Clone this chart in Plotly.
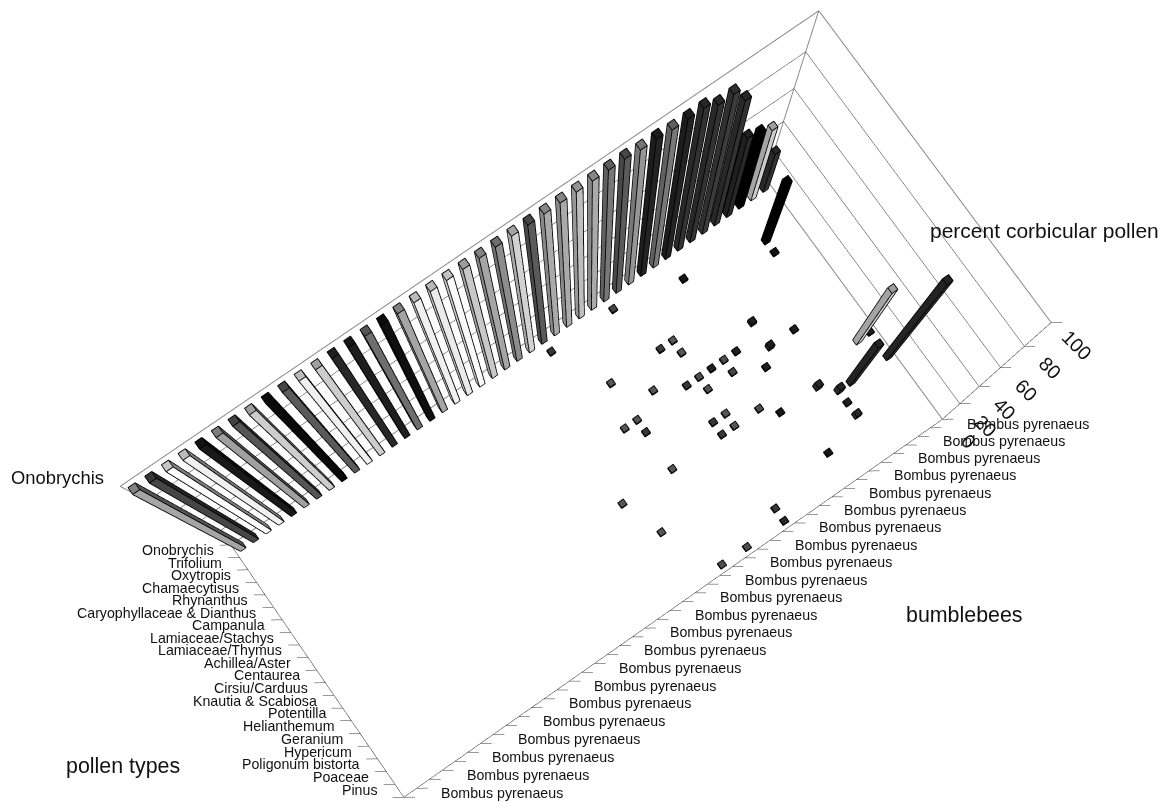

import plotly.graph_objects as go

pollen_types = ["Pinus","Poaceae","Poligonum bistorta","Hypericum","Geranium","Helianthemum","Potentilla",
 "Knautia & Scabiosa","Cirsiu/Carduus","Centaurea","Achillea/Aster","Lamiaceae/Thymus","Lamiaceae/Stachys",
 "Campanula","Caryophyllaceae & Dianthus","Rhynanthus","Chamaecytisus","Oxytropis","Trifolium","Onobrychis"]
n_bees = 43
bee_label = "Bombus pyrenaeus"
z_ticks = [0,20,40,60,80,100]
row_pct = [100,100,100,100,100,100,100,100,100,100,100,100,100,100,100,100,100,100,100,100,100,
           100,100,100,100,100,100,100,100,100,100,99,99,98,98,98,94,94,85,57,54,50,28]
row_gray = [165,70,255,240,25,160,85,205,10,90,240,205,40,30,110,15,165,240,235,250,200,165,140,210,90,170,170,190,170,120,90,150,35,120,35,50,50,60,50,40,0,205,50]
bee =  [41,40,42,43, 35,30,25,37,39,32,31,32,37,35,34,33,32,31,34,36,27,29,32,27,26,27,32,31,32,31,34,35,36,27,23,24,31,31,28,26,38,39,39,39,43,41]
poll = [17, 6, 8, 6, 18,19,19,13,11,15,15,14,11,12,12,12,12,12,11,10,15,13,11,12,12,11, 9, 9, 8, 8, 8, 7, 3, 8, 8, 5, 2, 1, 1, 1, 7, 6, 5, 4, 8,16]
pct =  [47,42,50,72,  1, 1, 1, 2, 1, 1, 1, 1, 3, 1, 1, 1, 1, 1, 1, 1, 1, 1, 1, 1, 1, 1, 1, 1, 1, 1, 1, 1, 1, 1, 1, 1, 1, 1, 1, 1, 4, 5, 1, 3, 1, 1]
gray = [ 0,45,205,45, 30,90,70,40,40,110,80,110,40,40,100,40,100,70,90,40,110,110,110,110,110,70,110,70,110,70,100,30,30,110,110,110,70,50,100,100,50,50,40,50,40,20]

W,H=1160,1200
eye=dict(x=-0.47364,y=-0.67611,z=4.13826)
center=dict(x=-0.42387,y=-0.60489,z=3.14204)
up=dict(x=0.57235,y=0.81539,z=0.08689)
ax_,az_=2.15154,1.12515
n_poll=len(pollen_types)
xr=[-1,45]; yr=[-1.5,22.5]; zr=[-1,101]
half=0.2
B=list(range(1,n_bees+1))+bee
P=[n_poll]*n_bees+poll
Z=row_pct+pct
G=row_gray+gray
vx,vy,vz,fi,fj,fk,fc=[],[],[],[],[],[],[]
ex,ey,ez=[],[],[]
def col(g,s):
    v=int(round(g*s));return f"rgb({v},{v},{v})"
for b,q,z,g in zip(B,P,Z,G):
    n=len(vx)
    for zz_ in (0,z):
        for dx,dy in ((-half,-half),(half,-half),(half,half),(-half,half)):
            vx.append(b+dx);vy.append(q+dy);vz.append(zz_)
    faces=[((4,5,6),.78),((4,6,7),.78),((0,1,5),1),((0,5,4),1),((1,2,6),.5),((1,6,5),.5),((2,3,7),1),((2,7,6),1),((3,0,4),.8),((3,4,7),.8)]
    for (a,c2,d),s in faces:
        fi.append(n+a);fj.append(n+c2);fk.append(n+d);fc.append(col(g,s))
    h=half+.012
    rect=[(b-h,q-h),(b+h,q-h),(b+h,q+h),(b-h,q+h)]
    for zz_ in (0,z+.12):
        for xy in rect+[rect[0]]:
            ex.append(xy[0]);ey.append(xy[1]);ez.append(zz_)
        ex.append(None);ey.append(None);ez.append(None)
    for xy in rect:
        ex+=[xy[0],xy[0],None];ey+=[xy[1],xy[1],None];ez+=[0,z+.12,None]

x0,x1=.5,n_bees+.5; y0,y1=.5,n_poll+.5
def seg(L,a,b):
    L[0]+= [a[0],b[0],None];L[1]+=[a[1],b[1],None];L[2]+=[a[2],b[2],None]
wall=[[],[],[]]; grid=[[],[],[]]; axis=[[],[],[]]; tick=[[],[],[]]
seg(wall,(x0,y1,0),(x1,y1,0));seg(wall,(x1,y1,0),(x1,y0,0))
seg(wall,(x0,y1,100),(x1,y1,100));seg(wall,(x1,y1,100),(x1,y0,100))
seg(wall,(x0,y1,0),(x0,y1,100));seg(wall,(x1,y1,0),(x1,y1,100))
for t in z_ticks[1:-1]:
    seg(grid,(x0,y1,t),(x1,y1,t));seg(grid,(x1,y1,t),(x1,y0,t))
seg(axis,(x0,y0,0),(x1,y0,0));seg(axis,(x0,y0,0),(x0,y1,0));seg(axis,(x1,y0,0),(x1,y0,100))
tdx,tdy=.01375*n_bees,.0205*n_poll
for i in range(n_bees+1):
    seg(tick,(x0+i,y0,0),(x0+i+tdx,y0-tdy,0))
for j in range(n_poll+1):
    seg(tick,(x0,y0+j,0),(x0-tdx,y0+j+tdy,0))
for t in z_ticks:
    s=1/(1+.3*t/100)
    seg(tick,(x1,y0,t),(x1+tdx*s,y0-tdy*s,t))

fig=go.Figure()
fig.add_trace(go.Mesh3d(x=vx,y=vy,z=vz,i=fi,j=fj,k=fk,facecolor=fc,flatshading=True,hoverinfo='skip',
  lighting=dict(ambient=1,diffuse=0,specular=0,fresnel=0,roughness=1)))
fig.add_trace(go.Scatter3d(x=ex,y=ey,z=ez,mode='lines',line=dict(color='black',width=1.8),hoverinfo='skip'))
fig.add_trace(go.Scatter3d(x=wall[0],y=wall[1],z=wall[2],mode='lines',line=dict(color='#8a8a8a',width=2),hoverinfo='skip'))
fig.add_trace(go.Scatter3d(x=grid[0],y=grid[1],z=grid[2],mode='lines',line=dict(color='#444444',width=1),hoverinfo='skip'))
fig.add_trace(go.Scatter3d(x=axis[0],y=axis[1],z=axis[2],mode='lines',line=dict(color='#333333',width=1),hoverinfo='skip'))
fig.add_trace(go.Scatter3d(x=tick[0],y=tick[1],z=tick[2],mode='lines',line=dict(color='#333333',width=1),hoverinfo='skip'))

font=dict(family="Liberation Sans",size=14.2,color='#111111')
scene_ann=[]
for j,name in enumerate(pollen_types):
    scene_ann.append(dict(x=x0,y=j+1,z=0,text=name,showarrow=False,xanchor='right',yanchor='middle',xshift=-19.5,yshift=1,font=font))
for i in range(1,n_bees+1,2):
    scene_ann.append(dict(x=i,y=y0,z=0,text=bee_label,showarrow=False,xanchor='left',yanchor='middle',xshift=29,font=font))
for t in z_ticks:
    scene_ann.append(dict(x=x1,y=y0,z=t,text=str(t),showarrow=False,xanchor='center',yanchor='middle',xshift=26,yshift=-22,textangle=45,font=dict(family="Liberation Sans",size=19.5,color='#111111')))
def title(text,left,cy,size):
    return dict(text=text,x=(left-8)/W,y=1-(cy-8)/H,xref='paper',yref='paper',xanchor='left',yanchor='middle',showarrow=False,font=dict(family="Liberation Sans",size=size,color='#111111'))
anns=[title("percent corbicular pollen",928,231,21.0),title("bumblebees",904,615,21.4),title("pollen types",64,766,21.4),title("Onobrychis",9,478,18.4)]
hidden=dict(visible=False)
fig.update_layout(width=W,height=H,margin=dict(l=0,r=0,t=0,b=0),showlegend=False,paper_bgcolor='white',annotations=anns,
 scene=dict(domain=dict(x=[0,1],y=[0,1]),aspectmode='manual',
  aspectratio=dict(x=ax_*(xr[1]-xr[0])/n_bees,y=(yr[1]-yr[0])/n_poll,z=az_*(zr[1]-zr[0])/100),
  camera=dict(eye=eye,center=center,up=up),
  xaxis=dict(range=xr,**hidden),yaxis=dict(range=yr,**hidden),zaxis=dict(range=zr,**hidden),annotations=scene_ann))
fig.write_html("out.html",post_script="document.documentElement.style.overflow='hidden';")
